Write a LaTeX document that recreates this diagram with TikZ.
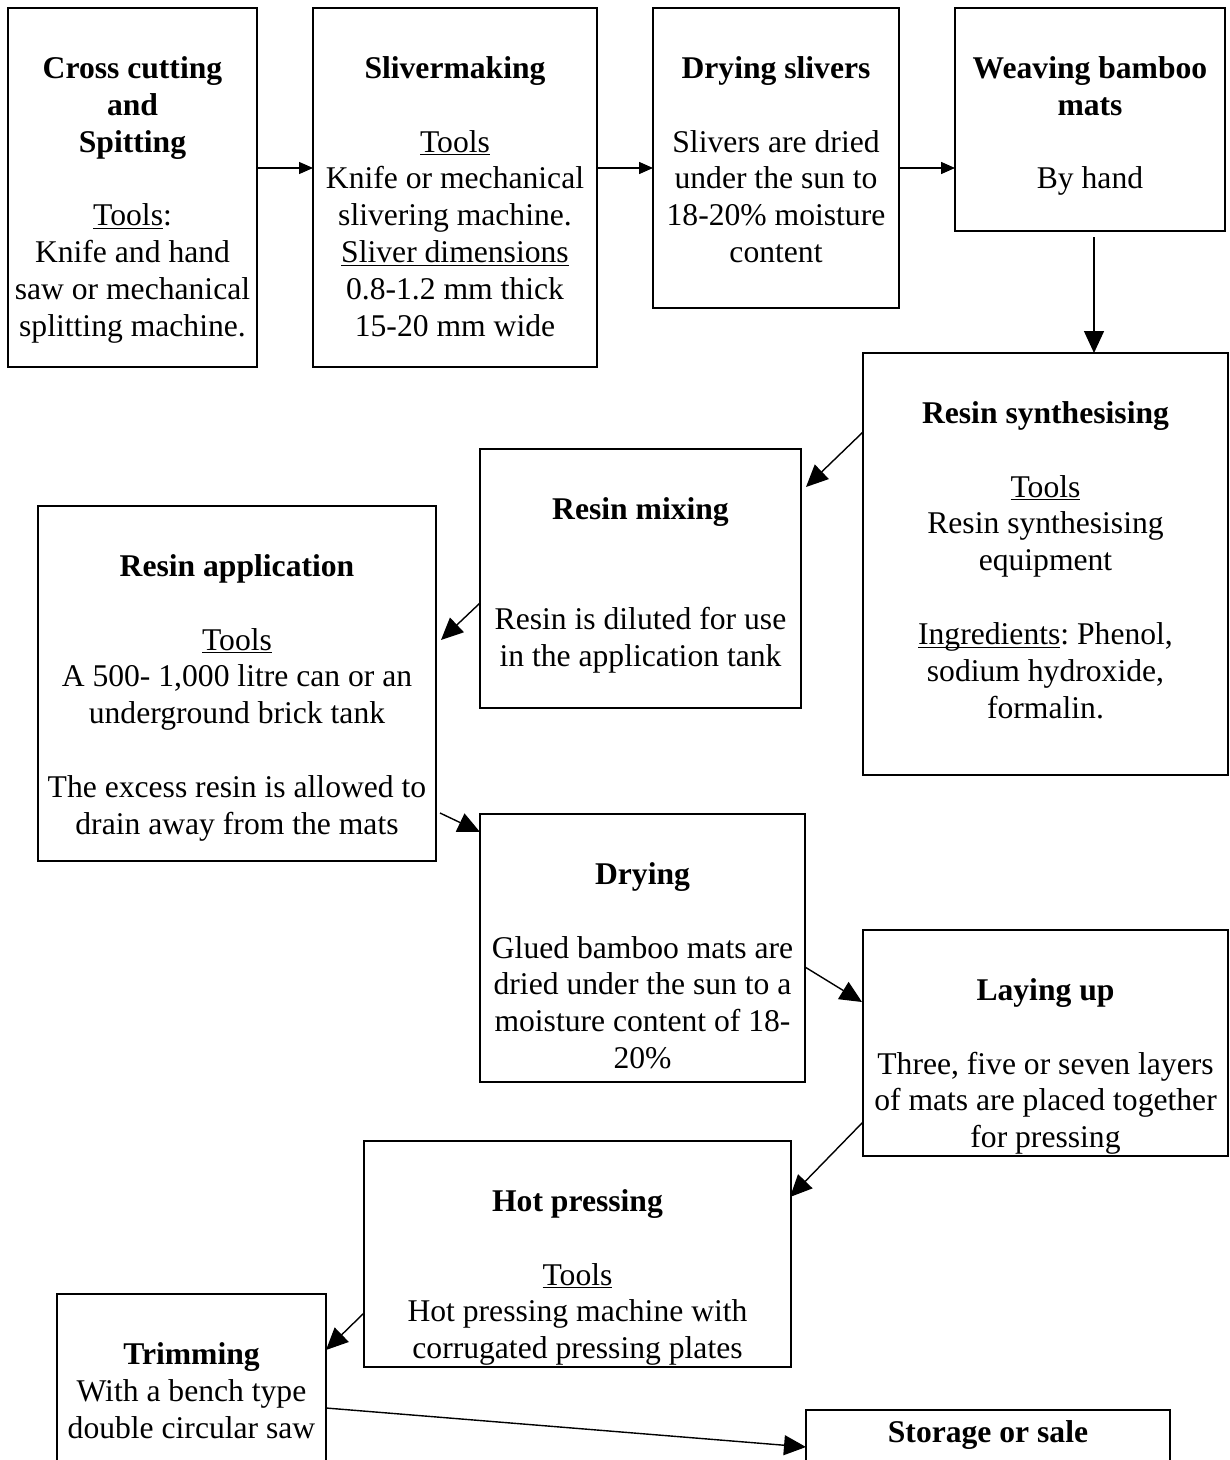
\documentclass[tikz,border=0pt]{standalone}
\usepackage{fontspec}
\setmainfont{Liberation Serif}
\usetikzlibrary{arrows.meta,calc}
\newlength{\pxu}
\setlength{\pxu}{0.02cm}
\tikzset{
	stepbox/.style={draw, line width=1.2pt, inner sep=0pt, outer sep=0pt, anchor=north west,
		font=\fontsize{18pt}{21pt}\selectfont\frenchspacing},
	flow/.style={line width=0.8pt, -{Triangle[length=0.44cm,width=0.4cm]}},
	flowsmall/.style={line width=0.8pt, -{Triangle[length=0.28cm,width=0.24cm]}}
}
% box body: width and height in pixels, text hung from the top
\newcommand{\stepbody}[4][40pt]{\parbox[c][#3\pxu][t]{#2\pxu}{\centering\rule{0pt}{#1}#4}}
\newcommand{\gap}{\\[\baselineskip]}
\newcommand{\ulin}[1]{\underline{\smash{#1}}}

\begin{document}
\begin{tikzpicture}[x=0.02cm, y=-0.02cm]
	\useasboundingbox (0,0) rectangle (1230,1460);
	\clip (0,0) rectangle (1230,1460);
	
	\node[stepbox] (cut) at (8,8) {\stepbody{249}{359}{\textbf{Cross cutting}\\ \textbf{and}\\ \textbf{Spitting}\gap \ulin{Tools}:\\ Knife and hand\\ saw or mechanical\\ splitting machine.}};
	\node[stepbox] (sliver) at (313,8) {\stepbody{284}{359}{\textbf{Slivermaking}\gap \ulin{Tools}\\ Knife or mechanical\\ slivering machine.\\ \ulin{Sliver dimensions}\\ 0.8-1.2 mm thick\\ 15-20 mm wide}};
	\node[stepbox] (drysliv) at (653,8) {\stepbody{246}{300}{\textbf{Drying slivers}\gap Slivers are dried\\ under the sun to\\ 18-20\% moisture\\ content}};
	\node[stepbox] (weave) at (955,8) {\stepbody{270}{223}{\textbf{Weaving bamboo}\\ \textbf{mats}\gap By hand}};
	
	\node[stepbox] (synth) at (863,353) {\stepbody{365}{422}{\textbf{Resin synthesising}\gap \ulin{Tools}\\ Resin synthesising\\ equipment\gap \ulin{Ingredients}: Phenol,\\ sodium hydroxide,\\ formalin.}};
	\node[stepbox] (mix) at (480,449) {\stepbody{321}{259}{\textbf{Resin mixing}\\[2\baselineskip] Resin is diluted for use\\ in the application tank}};
	\node[stepbox] (apply) at (38,506) {\stepbody{398}{355}{\textbf{Resin application}\gap \ulin{Tools}\\ A 500- 1,000 litre can or an\\ underground brick tank\gap The excess resin is allowed to\\ drain away from the mats}};
	\node[stepbox] (dry) at (480,814) {\stepbody{325}{268}{\textbf{Drying}\gap Glued bamboo mats are\\ dried under the sun to a\\ moisture content of 18-\\ 20\%}};
	\node[stepbox] (layup) at (863,930) {\stepbody{365}{226}{\textbf{Laying up}\gap Three, five or seven layers\\ of mats are placed together\\ for pressing}};
	\node[stepbox] (press) at (364,1141) {\stepbody{427}{226}{\textbf{Hot pressing}\gap \ulin{Tools}\\ Hot pressing machine with\\ corrugated pressing plates}};
	\node[stepbox] (trim) at (57,1294) {\stepbody{269}{226}{\textbf{Trimming}\\ With a bench type\\ double circular saw}};
	\node[stepbox] (store) at (806,1410) {\stepbody[18.7pt]{364}{110}{\textbf{Storage or sale}}};
	
	\coordinate (row) at (0,168);
	\coordinate (down) at (1094,237);
	\draw[flowsmall] (cut.east |- row) -- (sliver.west |- row);
	\draw[flowsmall] (sliver.east |- row) -- (drysliv.west |- row);
	\draw[flowsmall] (drysliv.east |- row) -- (weave.west |- row);
	\draw[flow] (down) -- (down |- synth.north);
	\draw[flow] ($(synth.north west)+(0,79)$) -- ($(mix.north east)+(5,38)$);
	\draw[flow] ($(mix.north west)+(0,154)$) -- ($(apply.north east)+(5,134)$);
	\draw[flow] ($(apply.north east)+(4,307)$) -- ($(dry.north west)+(0,18)$);
	\draw[flow] ($(dry.north east)+(0,153)$) -- ($(layup.north west)+(-1,72)$);
	\draw[flow] ($(layup.north west)+(0,192)$) -- ($(press.north east)+(-1,56)$);
	\draw[flow] ($(press.north west)+(0,172)$) -- ($(trim.north east)+(0,56)$);
	\draw[flow] ($(trim.north east)+(0,114)$) -- ($(store.north west)+(0,37)$);
\end{tikzpicture}
\end{document}
